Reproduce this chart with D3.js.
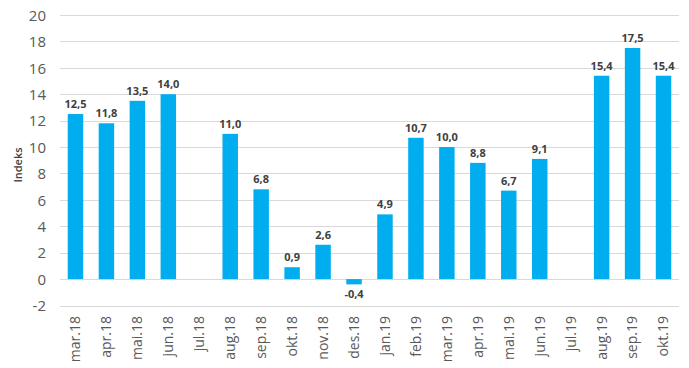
<!DOCTYPE html>
<html><head><meta charset="utf-8">
<script src="https://cdn.jsdelivr.net/npm/d3@7"></script>
<style>body{margin:0;background:#fff}</style></head>
<body><svg id="c" width="689" height="368"></svg>
<script>
const categories = ["mar.18","apr.18","mai.18","jun.18","jul.18","aug.18","sep.18","okt.18","nov.18","des.18","jan.19","feb.19","mar.19","apr.19","mai.19","jun.19","jul.19","aug.19","sep.19","okt.19"];
const values = [12.5,11.8,13.5,14.0,null,11.0,6.8,0.9,2.6,-0.4,4.9,10.7,10.0,8.8,6.7,9.1,null,15.4,17.5,15.4];
const yTicks = [-2,0,2,4,6,8,10,12,14,16,18,20];
const yTitle = "Indeks";

const svg = d3.select("#c");
const x = d3.scaleBand().domain(categories).range([60,679]).paddingInner(0.5).paddingOuter(0.25);
const y = d3.scaleLinear().domain([-2,20]).range([305.5,15]);
const fmt = v => v.toFixed(1).replace(".", ",");

svg.append("g").selectAll("line").data(yTicks).join("line")
  .attr("x1",60).attr("x2",679).attr("y1",d=>Math.round(y(d))+0.5).attr("y2",d=>Math.round(y(d))+0.5)
  .attr("stroke","#d9d9d9").attr("stroke-width",1);

const yAxis = d3.axisLeft(y).tickValues(yTicks).tickSize(0).tickPadding(0).tickFormat(d=>String(d));
const ga = svg.append("g").attr("transform","translate(46,0)").call(yAxis);
ga.select(".domain").remove();
ga.selectAll("text").attr("font-family","'Open Sans', sans-serif").attr("font-size",15).attr("fill","#595959").attr("dy","0.35em");

const data = categories.map((c,i)=>({c,v:values[i]})).filter(d=>d.v!==null);
svg.append("g").selectAll("rect").data(data).join("rect")
  .attr("x",d=>x(d.c)).attr("width",x.bandwidth())
  .attr("y",d=>y(Math.max(0,d.v))).attr("height",d=>Math.abs(y(d.v)-y(0)))
  .attr("fill","#00AEEF");

svg.append("g").selectAll("text").data(data).join("text")
  .attr("x",d=>x(d.c)+x.bandwidth()/2)
  .attr("y",d=>d.v>=0 ? y(d.v)-6 : y(d.v)+14)
  .attr("text-anchor","middle")
  .attr("font-family","'Open Sans', sans-serif").attr("font-size",11).attr("font-weight","bold").attr("fill","#404040")
  .text(d=>fmt(d.v));

const xAxis = d3.axisBottom(x).tickSize(0).tickPadding(0);
const gx = svg.append("g").attr("transform","translate(0,314)").call(xAxis);
gx.select(".domain").remove();
gx.selectAll("text").attr("font-family","'Open Sans', sans-serif").attr("font-size",14).attr("fill","#595959")
  .attr("transform","rotate(-90)").attr("text-anchor","end").attr("x",-2).attr("y",0).attr("dy","0.35em");

svg.append("text").attr("transform","translate(22,165) rotate(-90)").attr("text-anchor","middle")
  .attr("font-family","'Open Sans', sans-serif").attr("font-size",11).attr("font-weight",600).attr("fill","#404040").text(yTitle);
</script></body></html>
